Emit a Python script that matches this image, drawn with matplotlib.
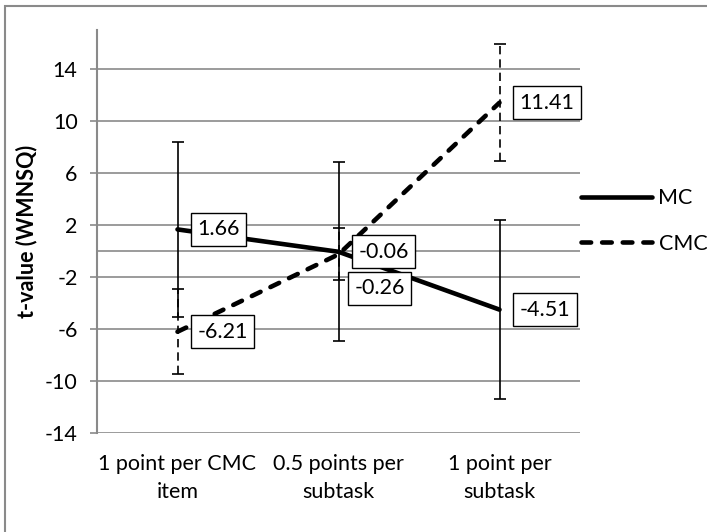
import matplotlib
matplotlib.use("Agg")
import matplotlib.pyplot as plt
from matplotlib.patches import Rectangle
import numpy as np

categories = ["1 point per CMC\nitem", "0.5 points per\nsubtask", "1 point per\nsubtask"]
mc_values = [1.66, -0.06, -4.51]
mc_err = [6.75, 6.88, 6.87]
cmc_values = [-6.21, -0.26, 11.41]
cmc_err = [3.27, 2.0, 4.5]
y_ticks = [-14, -10, -6, -2, 2, 6, 10, 14]

plt.rcParams['font.family'] = ['Lato', 'DejaVu Sans']
FS = 15.5
GRAY = '#8a8a8a'

fig = plt.figure(figsize=(7.07, 5.32), dpi=100)
ax = fig.add_axes([97/707, 1-433/532, (580-97)/707, (433-30)/532])
x = np.arange(len(categories))

# error bars
e1 = ax.errorbar(x, mc_values, yerr=mc_err, fmt='none', ecolor='black',
                 elinewidth=1.2, capsize=4.3, capthick=1.2, zorder=3)
e2 = ax.errorbar(x, cmc_values, yerr=cmc_err, fmt='none', ecolor='black',
                 elinewidth=1.2, capsize=4.3, capthick=1.2, zorder=3)
for lc in e2[2]:
    lc.set_linestyle((0, (5, 3)))

ax.plot(x, mc_values, color='black', lw=3.3, solid_capstyle='round',
        solid_joinstyle='round', label='MC', zorder=4)
ax.plot(x, cmc_values, color='black', lw=3.3, ls=(0, (2.1, 2.4)),
        dash_capstyle='round', label='CMC', zorder=5)

# data labels
bbox = dict(boxstyle='square,pad=0.3', fc='white', ec='black', lw=1)
for i, v in enumerate(mc_values):
    ax.annotate(f"{v:.2f}", (x[i], v), xytext=(14.5, 0), textcoords='offset points',
                ha='left', va='center', fontsize=FS, bbox=bbox, zorder=6)
for i, v in enumerate(cmc_values):
    off = (14.5, 0)
    if i == 1:
        off = (11.6, -24.5)
    ax.annotate(f"{v:.2f}", (x[i], v), xytext=off, textcoords='offset points',
                ha='left', va='center', fontsize=FS, bbox=bbox, zorder=6)

ax.set_xlim(-0.5, 2.5)
ax.set_ylim(-14, 17)
ax.set_yticks(y_ticks)
ax.set_yticklabels([str(t) for t in y_ticks], fontsize=FS)
ax.set_xticks(x)
ax.set_xticklabels(categories, fontsize=FS, linespacing=1.5)
ax.tick_params(axis='y', length=5, width=1.2, color=GRAY, pad=9)
ax.tick_params(axis='x', length=0, pad=15)
ax.yaxis.grid(True, color=GRAY, lw=1.2)
ax.set_axisbelow(True)
ax.axhline(0, color=GRAY, lw=1.2, zorder=1)
for s in ['top', 'right', 'bottom']:
    ax.spines[s].set_visible(False)
ax.spines['left'].set_color(GRAY)
ax.spines['left'].set_linewidth(1.5)

fig.text(27/707, 1-231/532, "t-value (WMNSQ)", rotation=90, ha='center', va='center',
         fontsize=FS, fontweight='bold')

leg = ax.legend(loc='center left', bbox_to_anchor=(581/707, 1-221/532),
                bbox_transform=fig.transFigure, frameon=False, fontsize=FS,
                handlelength=3.3, handletextpad=0.3, labelspacing=1.2,
                borderpad=0, borderaxespad=0)

# chart area border
fig.patches.append(Rectangle((5/707, -0.1), 1.2, 1.1 - 6/532, transform=fig.transFigure,
                             fill=False, ec=GRAY, lw=1.5, figure=fig))

fig.savefig("out.png", dpi=100)
